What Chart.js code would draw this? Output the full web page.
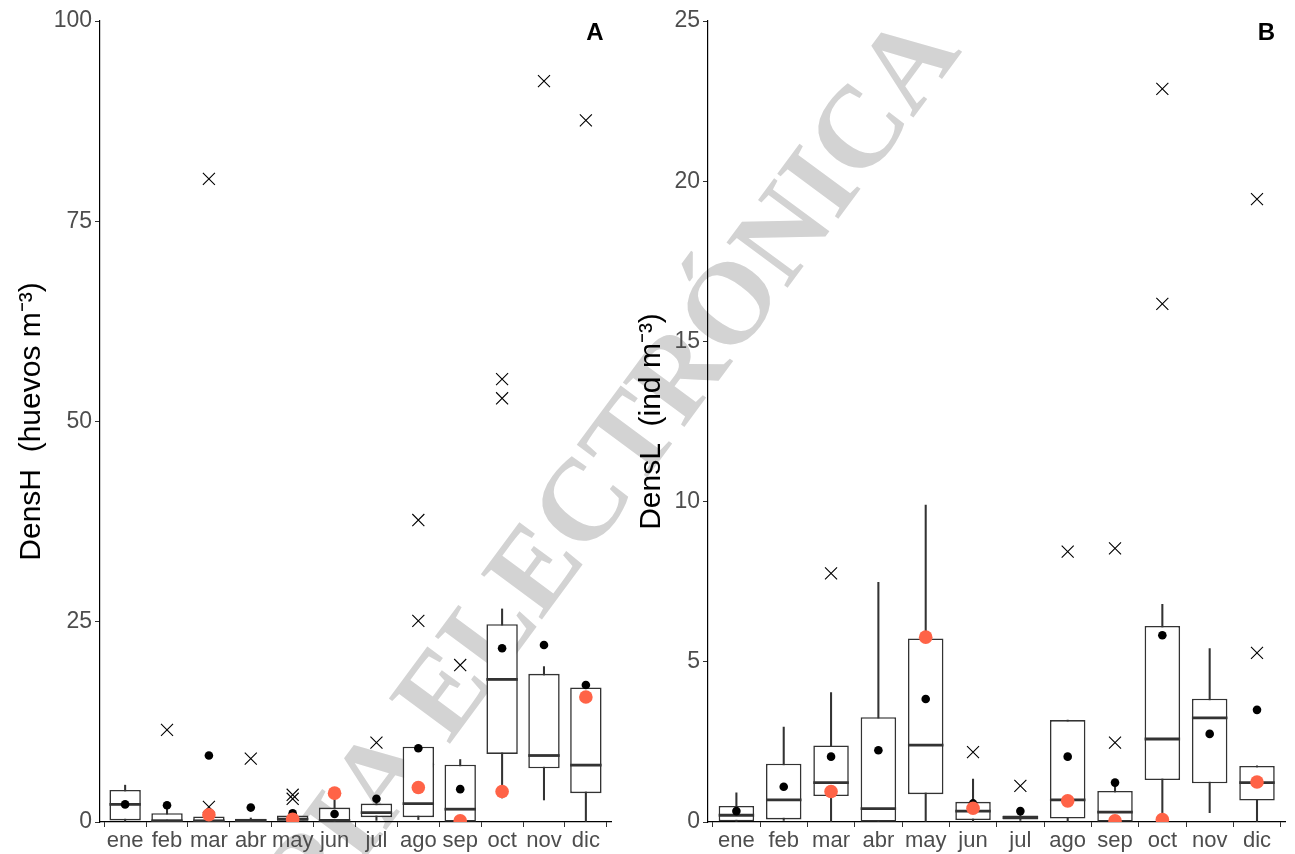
<!DOCTYPE html>
<html>
<head>
<meta charset="utf-8">
<script src="https://cdn.jsdelivr.net/npm/chart.js@4.4.1/dist/chart.umd.min.js"></script>
<style>
  html, body { margin: 0; padding: 0; background: #ffffff; }
  #wrap { position: relative; width: 1295px; height: 854px; overflow: hidden; }
  #mark { position: absolute; left: 0; top: 0; }
  #cA { position: absolute; left: 0; top: 0; }
  #cB { position: absolute; left: 630px; top: 0; }
</style>
</head>
<body>
<div id="wrap">
  <svg id="mark" width="1295" height="854">
    <text x="213" y="1064" transform="rotate(-53.5 213 1064)" font-family="Liberation Serif, Times New Roman, serif" font-weight="bold" font-size="116" fill="#d3d3d3">COPIA ELECTRÓNICA</text>
  </svg>
  <canvas id="cA" width="630" height="854"></canvas>
  <canvas id="cB" width="665" height="854"></canvas>
</div>
<script>
// Month labels on the x axis
const months = ['ene', 'feb', 'mar', 'abr', 'may', 'jun', 'jul', 'ago', 'sep', 'oct', 'nov', 'dic'];

// Tick values on the y axes
const ticksH = [0, 25, 50, 75, 100];
const ticksL = [0, 5, 10, 15, 20, 25];

// DensH (huevos m-3): box statistics per month
const hLow  = [0.1, 0.0, 0.0, 0.0, 0.0, 0.0, 0.2, 0.3, 0.0, 3.0, 2.75, 0.0];
const hQ1   = [0.2, 0.1, 0.05, 0.02, 0.15, 0.1, 0.6, 0.6, 0.04, 8.5, 6.7, 3.6];
const hMed  = [2.2, 0.15, 0.15, 0.2, 0.35, 0.2, 1.16, 2.3, 1.6, 17.8, 8.3, 7.1];
const hQ3   = [4.0, 1.1, 0.7, 0.4, 0.8, 1.8, 2.3, 9.4, 7.15, 24.7, 18.5, 16.8];
const hHigh = [4.6, 1.9, 0.9, 0.5, 1.0, 3.3, 2.7, 9.4, 7.8, 26.6, 19.4, 17.0];
const hMean = [2.2, 2.1, 8.3, 1.8, 1.1, 1.0, 2.9, 9.2, 4.1, 21.7, 22.1, 17.1];
const hRef  = [null, null, 0.9, null, 0.33, 3.6, null, 4.3, 0.15, 3.8, null, 15.6];
const hOut  = [[], [11.5], [1.9, 80.3], [7.9], [2.9, 3.4], [], [9.9], [25.1, 37.7], [19.6], [52.9, 55.3], [92.5], [87.6]];

// DensL (ind m-3): box statistics per month
const lLow  = [0.0, 0.05, 0.0, 0.0, 0.0, 0.0, 0.05, 0.0, 0.0, 0.0, 0.29, 0.0];
const lQ1   = [0.02, 0.08, 0.81, 0.01, 0.87, 0.06, 0.08, 0.11, 0.01, 1.31, 1.21, 0.67];
const lMed  = [0.21, 0.69, 1.23, 0.42, 2.40, 0.34, 0.14, 0.69, 0.31, 2.59, 3.25, 1.23];
const lQ3   = [0.50, 1.82, 2.39, 3.27, 5.73, 0.63, 0.20, 3.18, 0.97, 6.12, 3.85, 1.75];
const lHigh = [0.91, 2.96, 4.04, 7.48, 9.89, 1.34, 0.30, 3.18, 1.15, 6.79, 5.41, 1.75];
const lMean = [0.34, 1.10, 2.04, 2.24, 3.84, 0.58, 0.34, 2.04, 1.23, 5.83, 2.75, 3.50];
const lRef  = [null, null, 0.95, null, 5.77, 0.43, null, 0.66, 0.04, 0.08, null, 1.25];
const lOut  = [[], [], [7.76], [], [], [2.18], [1.13], [8.44], [2.48, 8.54], [16.17, 22.88], [], [5.28, 19.44]];

// Bold panel letter in the upper right corner of the plotting area
const panelTag = {
  id: 'panelTag',
  afterDraw(chart, args, opts) {
    const { ctx, chartArea } = chart;
    ctx.save();
    ctx.font = 'bold 24px "Liberation Sans", Arial, sans-serif';
    ctx.fillStyle = '#000000';
    ctx.textAlign = 'center';
    ctx.textBaseline = 'middle';
    ctx.fillText(opts.text, chartArea.right - opts.dx, chartArea.top + opts.dy);
    ctx.restore();
  }
};

const FONT = '"Liberation Sans", Arial, sans-serif';
const INK = '#333333';

function points(values) {
  const out = [];
  values.forEach((v, i) => { if (v !== null) out.push({ x: i + 1, y: v }); });
  return out;
}

function outlierPoints(lists) {
  const out = [];
  lists.forEach((list, i) => list.forEach(v => out.push({ x: i + 1, y: v })));
  return out;
}

function boxPanel(canvasId, s) {
  const halfBox = (ctx) => {
    const x = ctx.chart.scales.x;
    return x.getPixelForValue(1.375) - x.getPixelForValue(1);
  };
  return new Chart(document.getElementById(canvasId), {
    type: 'bar',
    data: {
      datasets: [
        {
          label: 'bigotes',
          type: 'bar',
          data: months.map((m, i) => ({ x: i + 1, y: [s.low[i], s.high[i]] })),
          backgroundColor: INK,
          borderWidth: 0,
          barThickness: 1.4,
          order: 6
        },
        {
          label: 'cajas',
          type: 'bar',
          data: months.map((m, i) => ({ x: i + 1, y: [s.q1[i], s.q3[i]] })),
          backgroundColor: '#ffffff',
          borderColor: INK,
          borderWidth: 1.6,
          borderSkipped: false,
          barPercentage: 0.75,
          categoryPercentage: 1,
          order: 5
        },
        {
          label: 'mediana',
          type: 'scatter',
          data: points(s.med),
          pointStyle: 'line',
          radius: halfBox,
          hoverRadius: halfBox,
          borderColor: INK,
          borderWidth: 2.8,
          clip: 0,
          order: 4
        },
        {
          label: 'atípicos',
          type: 'scatter',
          data: outlierPoints(s.out),
          pointStyle: 'crossRot',
          radius: 8.5,
          borderColor: '#000000',
          borderWidth: 1.1,
          clip: 0,
          order: 3
        },
        {
          label: 'media',
          type: 'scatter',
          data: points(s.mean),
          pointStyle: 'circle',
          radius: 4.3,
          backgroundColor: '#000000',
          borderWidth: 0,
          clip: 0,
          order: 2
        },
        {
          label: 'referencia',
          type: 'scatter',
          data: points(s.ref),
          pointStyle: 'circle',
          radius: 6.8,
          backgroundColor: '#FF6347',
          borderWidth: 0,
          clip: 0,
          order: 1
        }
      ]
    },
    options: {
      responsive: false,
      animation: false,
      events: [],
      layout: { padding: { top: 21, right: s.padRight, bottom: 0, left: 0 } },
      plugins: {
        legend: { display: false },
        tooltip: { enabled: false },
        panelTag: { text: s.tag, dx: s.tagDx, dy: 12 }
      },
      scales: {
        x: {
          type: 'linear',
          min: 0.4,
          max: 12.6,
          offset: false,
          stacked: true,
          afterBuildTicks: (sc) => { sc.ticks = months.map((m, i) => ({ value: i + 1 })); },
          afterFit: (sc) => { sc.height = 32; },
          ticks: {
            autoSkip: false,
            maxRotation: 0,
            padding: 1,
            color: '#4D4D4D',
            font: { family: FONT, size: 22 },
            callback: (v) => months[v - 1]
          },
          grid: { drawOnChartArea: false, drawTicks: true, tickLength: 5, color: INK, lineWidth: 1 },
          border: { display: true, color: '#000000', width: 1.2 }
        },
        y: {
          type: 'linear',
          min: 0,
          max: s.max,
          stacked: false,
          afterBuildTicks: (sc) => { sc.ticks = s.ticks.map(v => ({ value: v })); },
          afterFit: (sc) => { sc.width = s.axisWidth; },
          ticks: {
            padding: 3,
            color: '#4D4D4D',
            font: { family: FONT, size: 23 },
            callback: (v) => String(v)
          },
          grid: { drawOnChartArea: false, drawTicks: true, tickLength: 5, color: INK, lineWidth: 1 },
          border: { display: true, color: '#000000', width: 1.2 },
          title: {
            display: true,
            text: s.title,
            color: '#000000',
            font: { family: FONT, size: 30 },
            padding: { top: s.titlePad, bottom: 0 }
          }
        }
      }
    },
    plugins: [panelTag]
  });
}

boxPanel('cA', {
  low: hLow, q1: hQ1, med: hMed, q3: hQ3, high: hHigh,
  mean: hMean, ref: hRef, out: hOut,
  max: 100, ticks: ticksH,
  title: 'DensH  (huevos m\u207B\u00B3)',
  axisWidth: 100, padRight: 19, titlePad: 13.5,
  tag: 'A', tagDx: 16
});

boxPanel('cB', {
  low: lLow, q1: lQ1, med: lMed, q3: lQ3, high: lHigh,
  mean: lMean, ref: lRef, out: lOut,
  max: 25, ticks: ticksL,
  title: 'DensL  (ind m\u207B\u00B3)',
  axisWidth: 78, padRight: 1, titlePad: 3.5,
  tag: 'B', tagDx: 19
});
</script>
</body>
</html>
